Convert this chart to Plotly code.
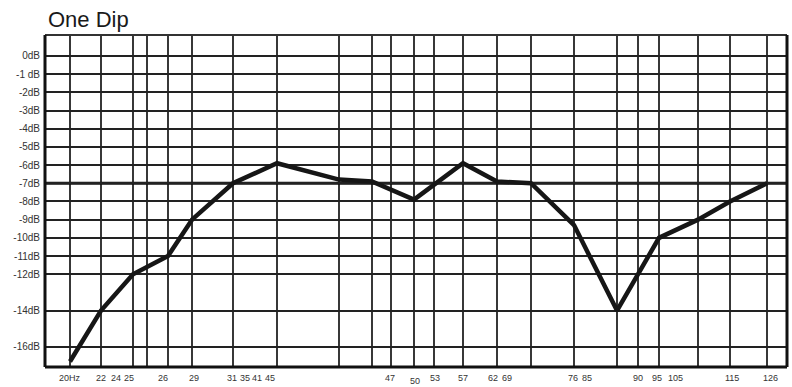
import plotly.graph_objects as go

# Horizontal position units along the frequency axis (irregular layout of the original chart)
grid_x = [25, 56, 88, 102, 123, 147, 188, 232, 294, 327, 346, 369, 389,
          418, 452, 486, 529, 572, 593, 614, 653, 685, 722]
x_max = 742

# Frequency tick labels and their positions
freq_labels = ["20Hz", "22", "24", "25", "26", "29", "31", "35", "41", "45",
               "47", "50", "53", "57", "62", "69", "76", "85", "90", "95",
               "105", "115", "126"]
freq_pos = [25, 56, 71, 84, 118, 149, 187, 200, 212, 225,
            345, 370, 390, 418, 448, 462, 528, 542, 593, 612,
            630, 687, 725]
label_drop = [0, 0, 0, 0, 0, 0, 0, 0, 0, 0,
              0, 1, 0, 0, 0, 0, 0, 0, 0, 0,
              0, 0, 0]

# dB axis ticks
db_ticks = [0, -1, -2, -3, -4, -5, -6, -7, -8, -9, -10, -11, -12, -14, -16]
db_text = ["0dB", "-1 dB", "-2dB", "-3dB", "-4dB", "-5dB", "-6dB", "-7dB", "-8dB",
           "-9dB", "-10dB", "-11dB", "-12dB", "-14dB", "-16dB"]

# Response curve
curve_x = [25, 56, 88, 123, 147, 188, 232, 294, 327, 369, 418, 452, 486,
           529, 572, 614, 653, 685, 722]
curve_db = [-16.8, -14, -12, -11, -9, -7, -5.9, -6.8, -6.9, -7.9, -5.9, -6.9, -7,
            -9.3, -14, -10, -9, -8, -7]

reference_db = -7
y_range = [-17.1, 1.15]

fig = go.Figure()
fig.add_trace(go.Scatter(x=curve_x, y=curve_db, mode="lines",
                         line=dict(color="#161616", width=4.5),
                         hoverinfo="skip", showlegend=False))

shapes = []
for gx in grid_x:
    shapes.append(dict(type="line", xref="x", yref="paper", x0=gx, x1=gx, y0=0, y1=1,
                       line=dict(color="#222222", width=1.8), layer="below"))
shapes.append(dict(type="line", xref="paper", yref="y", x0=0, x1=1,
                   y0=reference_db, y1=reference_db,
                   line=dict(color="#111111", width=3), layer="below"))
# frame
shapes.append(dict(type="line", xref="paper", yref="paper", x0=0, x1=1, y0=1, y1=1,
                   line=dict(color="#333333", width=1.8)))
for x0 in (0, 1):
    shapes.append(dict(type="line", xref="paper", yref="paper", x0=x0, x1=x0, y0=0, y1=1,
                       line=dict(color="#111111", width=3)))
shapes.append(dict(type="line", xref="paper", yref="paper", x0=0, x1=1, y0=0, y1=0,
                   line=dict(color="#111111", width=3)))

annotations = [dict(text="One Dip", xref="paper", yref="paper", x=0.002, y=1.0,
                    xanchor="left", yanchor="bottom", yshift=1, showarrow=False,
                    font=dict(family="Liberation Sans, Arial", size=22, color="#1a1a1a"))]
for lab, pos, drop in zip(freq_labels, freq_pos, label_drop):
    annotations.append(dict(text=lab, x=pos, y=0, xref="x", yref="paper",
                            yanchor="top", xanchor="center", showarrow=False,
                            yshift=-4 - 3 * drop,
                            font=dict(family="Liberation Sans, Arial", size=9, color="#333333")))

fig.update_layout(
    width=792, height=387,
    margin=dict(l=45, r=5, t=35, b=20),
    paper_bgcolor="white", plot_bgcolor="white",
    shapes=shapes, annotations=annotations,
    xaxis=dict(range=[0, x_max], showgrid=False, zeroline=False,
               showticklabels=False, ticks="", fixedrange=True),
    yaxis=dict(range=y_range, tickvals=db_ticks, ticktext=db_text,
               showgrid=True, gridcolor="#222222", gridwidth=1.8, zeroline=False,
               ticks="", ticklabelstandoff=4,
               tickfont=dict(family="Liberation Sans, Arial", size=10, color="#333333")),
)

fig.write_html("out.html")
